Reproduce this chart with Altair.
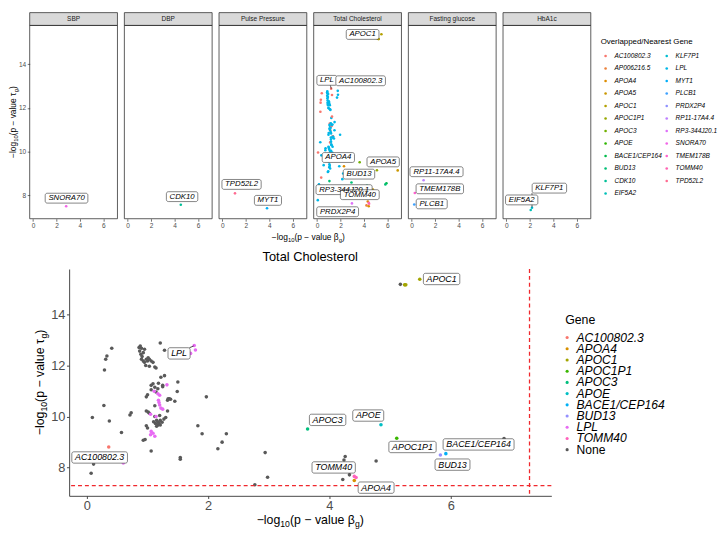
import math
import altair as alt
import pandas as pd

FONT = "Liberation Sans"

# ---------------- data ----------------
# Total cholesterol SNPs with no overlapped gene ("None" in the bottom panel),
# with their overlapped/nearest gene (colour in the top "Total Cholesterol" panel)
NONE_X = [0.07, 0.11, 0.17, 0.09, 0.37, 0.28, 0.29, 0.31, 0.33, 0.41,
          0.57, 0.71, 0.73, 0.93, 0.96, 1.06, 1.54, 1.54, 1.83, 1.90,
          1.97, 2.16, 2.23, 2.30, 2.77, 2.94, 2.98, 4.22, 4.33, 4.24,
          4.26, 4.77, 4.07, 5.17, 6.88, 1.50, 1.49, 1.22, 1.28, 0.98,
          1.34,
          0.88, 0.90, 0.87, 0.93, 0.95, 0.89, 0.90, 0.93, 0.95, 0.98,
          1.00, 1.03, 1.06, 1.09, 0.97, 1.03, 1.12, 1.14, 0.86, 0.91,
          1.01, 1.21, 1.28,
          1.09, 1.06, 1.12, 1.17, 1.14, 1.25, 1.00, 1.12, 1.36, 1.33,
          1.38, 1.45, 0.98, 1.01, 1.03, 1.12, 1.20, 1.30, 1.33, 1.15,
          1.17, 1.19, 1.21, 1.13, 1.17, 1.21, 1.15, 0.98, 1.00, 1.24,
          1.27, 1.10, 1.06, 1.18, 1.25]
NONE_Y = [7.78, 8.14, 8.50, 9.96, 9.83, 10.43, 11.82, 12.24, 12.37, 12.67,
          9.38, 10.06, 10.15, 9.07, 9.10, 8.65, 8.40, 8.33, 9.64, 9.33,
          10.77, 8.74, 9.00, 9.33, 7.33, 8.59, 7.63, 7.54, 7.72, 8.30,
          8.44, 8.26, 7.90, 15.17, 9.14, 11.35, 10.98, 11.54, 11.60, 10.77,
          10.70,
          12.76, 12.67, 12.56, 12.50, 12.63, 12.44, 12.24, 12.17, 12.12, 12.24,
          12.17, 12.24, 12.17, 12.12, 12.00, 11.97, 11.94, 11.90, 12.70, 12.35,
          12.30, 12.88, 12.59,
          11.28, 11.22, 11.15, 11.09, 10.96, 11.17, 10.85, 10.42, 10.70, 10.64,
          10.68, 10.60, 10.22, 10.18, 10.13, 10.00, 10.04, 9.96, 10.22, 9.85,
          9.79, 9.73, 9.85, 9.73, 9.67, 9.67, 9.62, 9.64, 9.55, 9.78,
          9.90, 9.80, 11.05, 11.30, 11.22]
NONE_NEAREST = ["LPL", "LPL", "LPL", "AC100802.3", "LPL", "LPL", "AC100802.3", "AC100802.3", "AC100802.3", "AC100802.3",
                "LPL", "LPL", "LPL", "LPL", "LPL", "BUD13", "LPL", "LPL", "LPL", "LPL",
                "LPL", "LPL", "LPL", "APOA4", "PRDX2P4", "BUD13", "RP3-344J20.1", "AP006216.5", "APOA4", "BUD13",
                "BUD13", "APOA5", "AP006216.5", "APOC1", "APOA5", "LPL", "LPL", "LPL", "AC100802.3", "LPL",
                "LPL",
                "LPL", "LPL", "LPL", "LPL", "LPL", "LPL", "LPL", "LPL", "LPL", "LPL",
                "LPL", "LPL", "LPL", "LPL", "LPL", "LPL", "LPL", "LPL", "LPL", "LPL",
                "LPL", "AC100802.3", "AC100802.3",
                "AC100802.3", "LPL", "LPL", "LPL", "AC100802.3", "AC100802.3", "LPL", "AC100802.3", "AC100802.3", "LPL",
                "LPL", "LPL", "LPL", "LPL", "LPL", "LPL", "LPL", "LPL", "LPL", "LPL",
                "LPL", "LPL", "LPL", "LPL", "LPL", "LPL", "LPL", "LPL", "LPL", "LPL",
                "LPL", "LPL", "LPL", "LPL", "LPL"]

# Total cholesterol SNPs that overlap a gene
GENE_X = [1.77, 1.79, 1.71, 1.32, 1.11, 1.20, 1.17, 1.18, 1.20, 1.22,
          1.25, 1.05, 1.14, 1.06, 1.05, 1.09, 1.12, 1.19, 0.60,
          0.36, 4.41, 4.41, 4.44, 5.24, 5.26, 5.49, 5.11, 3.64, 4.85, 5.92, 5.83]
GENE_Y = [12.78, 12.60, 12.47, 11.24, 10.99, 10.83, 10.89, 10.64, 10.45, 10.33,
          10.29, 10.09, 10.00, 9.42, 9.29, 9.35, 9.23, 10.55, 8.18,
          8.81, 7.50, 7.66, 7.62, 15.15, 15.15, 15.37, 9.15, 9.51, 9.68, 8.55, 8.50]
GENE_NAME = ["LPL"] * 19 + ["AC100802.3", "APOA4", "TOMM40", "TOMM40", "APOC1", "APOC1", "APOC1",
                            "APOC1P1", "APOC3", "APOE", "BACE1/CEP164", "BUD13"]

# the other five traits (top row)
OTHER_PANEL = ["SBP", "DBP", "Pulse Pressure", "Pulse Pressure", "Fasting glucose",
               "Fasting glucose", "Fasting glucose", "HbA1c", "HbA1c"]
OTHER_X = [2.83, 4.53, 1.08, 3.81, 1.02, 0.27, 0.22, 2.19, 2.08]
OTHER_Y = [7.50, 7.57, 8.09, 7.41, 8.69, 8.11, 7.58, 7.43, 7.33]
OTHER_GENE = ["SNORA70", "CDK10", "TPD52L2", "MYT1", "RP11-17A4.4", "TMEM178B", "PLCB1", "KLF7P1", "EIF5A2"]

PANELS = ["SBP", "DBP", "Pulse Pressure", "Total Cholesterol", "Fasting glucose", "HbA1c"]

TOP_LAB_PANEL = ["SBP", "DBP", "Pulse Pressure", "Pulse Pressure"] + ["Total Cholesterol"] * 9 + \
                ["Fasting glucose"] * 3 + ["HbA1c"] * 2
TOP_LAB_TEXT = ["SNORA70", "CDK10", "TPD52L2", "MYT1", "APOC1", "LPL", "AC100802.3", "APOA4", "APOA5",
                "BUD13", "RP3-344J20.1", "TOMM40", "PRDX2P4", "RP11-17A4.4", "TMEM178B", "PLCB1",
                "KLF7P1", "EIF5A2"]
TOP_LAB_X = [2.86, 4.64, 1.64, 3.89, 3.89, 0.85, 3.72, 1.82, 5.64, 3.58, 2.31, 3.65, 1.76, 2.12, 2.40, 1.71, 3.67, 1.31]
TOP_LAB_Y = [7.87, 7.94, 8.50, 7.77, 15.36, 13.26, 13.24, 9.73, 9.53, 8.97, 8.26, 8.03, 7.25, 9.08, 8.30, 7.61, 8.33, 7.79]

TOP_SEG_PANEL = ["Total Cholesterol", "HbA1c"]
TOP_SEG_X1 = [1.13, 2.19]
TOP_SEG_Y1 = [13.04, 8.11]
TOP_SEG_X2 = [1.22, 2.19]
TOP_SEG_Y2 = [12.88, 7.45]

BOT_LAB_TEXT = ["APOC1", "LPL", "AC100802.3", "APOC3", "APOE", "APOC1P1", "BACE1/CEP164", "BUD13", "TOMM40", "APOA4"]
BOT_LAB_X = [5.85, 1.52, 0.21, 3.97, 4.64, 5.37, 6.46, 6.03, 4.07, 4.77]
BOT_LAB_Y = [15.38, 12.47, 8.40, 9.87, 10.04, 8.81, 8.91, 8.12, 8.01, 7.22]

BOT_SEG_X1 = [1.69]
BOT_SEG_Y1 = [12.69]
BOT_SEG_X2 = [1.76]
BOT_SEG_Y2 = [12.76]

GW_THRESHOLD = 7.30  # -log10(5e-8)

TOP_GENES = ["AC100802.3", "AP006216.5", "APOA4", "APOA5", "APOC1", "APOC1P1", "APOC3", "APOE",
             "BACE1/CEP164", "BUD13", "CDK10", "EIF5A2", "KLF7P1", "LPL", "MYT1", "PLCB1", "PRDX2P4",
             "RP11-17A4.4", "RP3-344J20.1", "SNORA70", "TMEM178B", "TOMM40", "TPD52L2"]
BOT_GENES = ["AC100802.3", "APOA4", "APOC1", "APOC1P1", "APOC3", "APOE", "BACE1/CEP164", "BUD13",
             "LPL", "TOMM40", "None"]

X_TICKS = [0, 2, 4, 6]
Y_TICKS = [8, 10, 12, 14]


# ---------------- colours (ggplot2 default hue palette) ----------------
def hcl_hex(h, c=100.0, l=65.0):
    xn, yn, zn = 95.047, 100.0, 108.883
    hr = math.radians(h)
    U, V = c * math.cos(hr), c * math.sin(hr)
    Y = yn * ((l + 16) / 116) ** 3
    den = xn + 15 * yn + 3 * zn
    un, vn = 4 * xn / den, 9 * yn / den
    u, v = U / (13 * l) + un, V / (13 * l) + vn
    X = 9 * Y * u / (4 * v)
    Z = -X / 3 - 5 * Y + 3 * Y / v
    X, Y, Z = X / 100, Y / 100, Z / 100
    r = 3.240479 * X - 1.537150 * Y - 0.498535 * Z
    g = -0.969256 * X + 1.875992 * Y + 0.041556 * Z
    b = 0.055648 * X - 0.204043 * Y + 1.057311 * Z

    def gam(t):
        t = 1.055 * t ** (1 / 2.4) - 0.055 if t > 0.0031308 else 12.92 * t
        return max(0.0, min(1.0, t))
    return "#%02X%02X%02X" % tuple(int(round(255 * gam(t))) for t in (r, g, b))


def hue_pal(n):
    return [hcl_hex(15 + 360 * i / n) for i in range(n)]


TOP_RANGE = hue_pal(len(TOP_GENES))
BOT_RANGE = hue_pal(10) + ["#595959"]

# ---------------- text metrics (Arial / Liberation Sans) ----------------
CW = {c: 667 for c in "ABEKPSVXY"}
CW.update({c: 722 for c in "CDHNRU"})
CW.update({"F": 611, "G": 778, "I": 278, "J": 500, "L": 556, "M": 833, "O": 778, "Q": 778, "T": 611,
           "W": 944, "Z": 611, ".": 278, "-": 333, "/": 278, " ": 278, "(": 333, ")": 333,
           "\u2212": 584, "\u03b2": 575, "\u03c4": 440, "a": 556, "e": 556, "g": 556, "l": 222,
           "o": 556, "p": 556, "u": 556, "v": 500})
for d in "0123456789":
    CW[d] = 556


def text_w(s, fs):
    return sum(CW.get(c, 556) for c in s) / 1000.0 * fs


ONE = pd.DataFrame({"k": [0]})


def rich(segs, cx, cy, fs, angle=0):
    widths = [text_w(t, fs * sc) for t, sc, sh in segs]
    total = sum(widths)
    if angle == 0:
        d, n = (1, 0), (0, 1)
    else:
        d, n = (0, -1), (1, 0)
    sx = cx - d[0] * total / 2 + n[0] * 0.35 * fs
    sy = cy - d[1] * total / 2 + n[1] * 0.35 * fs
    out, adv = [], 0.0
    for (t, sc, sh), w in zip(segs, widths):
        px = sx + d[0] * adv + n[0] * sh * fs
        py = sy + d[1] * adv + n[1] * sh * fs
        out.append(alt.Chart(ONE).mark_text(align="left", baseline="alphabetic", fontSize=fs * sc,
                                            angle=angle, font=FONT, color="black")
                   .encode(x=alt.value(px), y=alt.value(py), text=alt.value(t)))
        adv += w
    return out


def title_segs(greek):
    return [("\u2212log", 1, 0), ("10", 0.7, 0.22), ("(p \u2212 value " + greek, 1, 0), ("g", 0.7, 0.22), (")", 1, 0)]


# ---------------- layout ----------------
W1, H1 = 89, 196
X1, Y1 = [-0.28, 7.2], [6.93, 15.77]
W2, H2 = 489, 230
X2, Y2 = [-0.293, 7.66], [6.90, 15.77]

# ---------------- data frames ----------------
tc = pd.DataFrame({
    "x": NONE_X + GENE_X,
    "y": NONE_Y + GENE_Y,
    "gene": ["None"] * len(NONE_X) + GENE_NAME,
    "nearest": NONE_NEAREST + GENE_NAME,
})
top_pts = pd.concat([
    pd.DataFrame({"panel": "Total Cholesterol", "x": tc["x"], "y": tc["y"], "nearest": tc["nearest"]}),
    pd.DataFrame({"panel": OTHER_PANEL, "x": OTHER_X, "y": OTHER_Y, "nearest": OTHER_GENE}),
], ignore_index=True)

kx1, ky1 = (X1[1] - X1[0]) / W1, (Y1[1] - Y1[0]) / H1
top_lab = pd.DataFrame({"panel": TOP_LAB_PANEL, "text": TOP_LAB_TEXT, "x": TOP_LAB_X, "y": TOP_LAB_Y})
hw = [(text_w(t, 7.9) + 6.4) / 2 * kx1 for t in TOP_LAB_TEXT]
top_lab["bx1"] = top_lab["x"] - hw
top_lab["bx2"] = top_lab["x"] + hw
top_lab["by1"] = top_lab["y"] - 5 * ky1
top_lab["by2"] = top_lab["y"] + 5 * ky1
top_seg = pd.DataFrame({"panel": TOP_SEG_PANEL, "x1": TOP_SEG_X1, "y1": TOP_SEG_Y1,
                        "x2": TOP_SEG_X2, "y2": TOP_SEG_Y2})

kx2, ky2 = (X2[1] - X2[0]) / W2, (Y2[1] - Y2[0]) / H2
bot_lab = pd.DataFrame({"text": BOT_LAB_TEXT, "x": BOT_LAB_X, "y": BOT_LAB_Y})
hw2 = [(text_w(t, 9) + 6.4) / 2 * kx2 for t in BOT_LAB_TEXT]
bot_lab["bx1"] = bot_lab["x"] - hw2
bot_lab["bx2"] = bot_lab["x"] + hw2
bot_lab["by1"] = bot_lab["y"] - 5.75 * ky2
bot_lab["by2"] = bot_lab["y"] + 5.75 * ky2
bot_seg = pd.DataFrame({"x1": BOT_SEG_X1, "y1": BOT_SEG_Y1, "x2": BOT_SEG_X2, "y2": BOT_SEG_Y2})
thr = pd.DataFrame({"t": [GW_THRESHOLD]})

# legend tables (two columns, filled column by column)
top_leg = pd.DataFrame({"nearest": TOP_GENES,
                        "col": [0 if i < 12 else 1 for i in range(len(TOP_GENES))],
                        "row": [i if i < 12 else i - 12 for i in range(len(TOP_GENES))]})
bot_leg = pd.DataFrame({"gene": BOT_GENES, "row": list(range(len(BOT_GENES)))})

# ---------------- top row ----------------
top_color = alt.Color("nearest:N", scale=alt.Scale(domain=TOP_GENES, range=TOP_RANGE), legend=None)


def small_axis(vals):
    return alt.Axis(values=vals, title=None, grid=False, domain=False, tickColor="#333333", tickSize=2.5,
                    tickWidth=0.7, labelFontSize=6.6, labelColor="#4d4d4d", labelPadding=1.5, labelFont=FONT,
                    format="d", labelOverlap=False, tickCount=4)


def top_panel(name, first, last):
    pts = top_pts[top_pts.panel == name]
    lab = top_lab[top_lab.panel == name]
    seg = top_seg[top_seg.panel == name]
    xsc = alt.Scale(domain=X1, nice=False, zero=False)
    ysc = alt.Scale(domain=Y1, nice=False, zero=False)
    xax = small_axis(X_TICKS)
    yax = small_axis(Y_TICKS) if first else None

    def X(f):
        return alt.X(f, scale=xsc, axis=xax)

    def Y(f):
        return alt.Y(f, scale=ysc, axis=yax)

    layers = [
        alt.Chart(ONE).mark_rect(fill="#d9d9d9", stroke="#333333", strokeWidth=0.8)
        .encode(x=alt.value(0), x2=alt.value(W1), y=alt.value(-13), y2=alt.value(0)),
        alt.Chart(ONE).mark_text(fontSize=6.6, color="#1a1a1a", baseline="middle", font=FONT)
        .encode(x=alt.value(W1 / 2), y=alt.value(-6.5), text=alt.value(name)),
        alt.Chart(ONE).mark_rect(fillOpacity=0, stroke="#333333", strokeWidth=0.8)
        .encode(x=alt.value(0), x2=alt.value(W1), y=alt.value(0), y2=alt.value(H1)),
        alt.Chart(pts).mark_circle(size=7, opacity=1).encode(x=X("x:Q"), y=Y("y:Q"), color=top_color),
    ]
    if len(seg):
        layers.append(alt.Chart(seg).mark_rule(color="black", strokeWidth=0.6)
                      .encode(x=X("x1:Q"), x2="x2:Q", y=Y("y1:Q"), y2="y2:Q"))
    if len(lab):
        layers.append(alt.Chart(lab).mark_rect(fill="white", stroke="#333333", strokeWidth=0.6, cornerRadius=2)
                      .encode(x=X("bx1:Q"), x2="bx2:Q", y=Y("by1:Q"), y2="by2:Q"))
        layers.append(alt.Chart(lab).mark_text(fontSize=7.9, fontStyle="italic", font=FONT, color="black")
                      .encode(x=X("x:Q"), y=Y("y:Q"), text="text:N"))
    if first:
        layers += rich(title_segs("\u03c4"), -17, H1 / 2, 8.5, angle=270)
    if last:
        layers.append(alt.Chart(ONE).mark_text(align="left", baseline="middle", fontSize=8, font=FONT,
                                               color="black")
                      .encode(x=alt.value(99), y=alt.value(17), text=alt.value("Overlapped/Nearest Gene")))
    main = alt.layer(*layers)
    if last:
        lx = alt.X("col:Q", scale=alt.Scale(domain=[0, 1], range=[104, 166]), axis=None)
        ly = alt.Y("row:Q", scale=alt.Scale(domain=[0, 11], range=[31, 31 + 11 * 12.67]), axis=None)
        leg = alt.layer(
            alt.Chart(top_leg).mark_circle(size=7, opacity=1).encode(x=lx, y=ly, color=top_color),
            alt.Chart(top_leg).mark_text(align="left", baseline="middle", dx=9, fontSize=6.6, fontStyle="italic",
                                         font=FONT, color="black").encode(x=lx, y=ly, text="nearest:N"),
        )
        main = alt.layer(main, leg).resolve_scale(x="independent", y="independent")
    return main.properties(width=W1, height=H1)


top_row = alt.hconcat(*[top_panel(p, i == 0, i == len(PANELS) - 1) for i, p in enumerate(PANELS)], spacing=5)

# ---------------- bottom panel ----------------
big_axis = dict(title=None, grid=False, domainColor="#333333", domainWidth=0.9, tickColor="#333333",
                tickSize=2.7, tickWidth=0.9, labelFontSize=13, labelColor="#4d4d4d", labelPadding=1.5,
                labelFont=FONT, format="d", labelOverlap=False)
bxsc = alt.Scale(domain=X2, nice=False, zero=False)
bysc = alt.Scale(domain=Y2, nice=False, zero=False)
bxax = alt.Axis(values=X_TICKS, **big_axis)
byax = alt.Axis(values=Y_TICKS, **big_axis)


def BX(f):
    return alt.X(f, scale=bxsc, axis=bxax)


def BY(f):
    return alt.Y(f, scale=bysc, axis=byax)


bot_color = alt.Color("gene:N", scale=alt.Scale(domain=BOT_GENES, range=BOT_RANGE), legend=None)

bottom_layers = [
    alt.Chart(ONE).mark_point(opacity=0, size=1).encode(x=alt.value(-37), y=alt.value(H2 / 2)),
    alt.Chart(ONE).mark_text(fontSize=13, font=FONT, color="black", baseline="middle")
    .encode(x=alt.value(W2 / 2), y=alt.value(-12), text=alt.value("Total Cholesterol")),
    alt.Chart(tc).mark_circle(size=13, opacity=1).encode(x=BX("x:Q"), y=BY("y:Q"), color=bot_color),
    alt.Chart(thr).mark_rule(color="#F0282D", strokeDash=[4, 3], strokeWidth=1.3, opacity=1)
    .encode(y=BY("t:Q")),
    alt.Chart(thr).mark_rule(color="#F0282D", strokeDash=[4, 3], strokeWidth=1.3, opacity=1)
    .encode(x=BX("t:Q")),
    alt.Chart(bot_seg).mark_rule(color="black", strokeWidth=0.7)
    .encode(x=BX("x1:Q"), x2="x2:Q", y=BY("y1:Q"), y2="y2:Q"),
    alt.Chart(bot_lab).mark_rect(fill="white", stroke="#333333", strokeWidth=0.6, cornerRadius=2)
    .encode(x=BX("bx1:Q"), x2="bx2:Q", y=BY("by1:Q"), y2="by2:Q"),
    alt.Chart(bot_lab).mark_text(fontSize=9, fontStyle="italic", font=FONT, color="black")
    .encode(x=BX("x:Q"), y=BY("y:Q"), text="text:N"),
    alt.Chart(ONE).mark_text(align="left", baseline="middle", fontSize=12.5, font=FONT, color="black")
    .encode(x=alt.value(503), y=alt.value(51.5), text=alt.value("Gene")),
]
bottom_layers += rich(title_segs("\u03b2"), 242.5, -32, 8.5)
bottom_layers += rich(title_segs("\u03c4"), -30, H2 / 2, 12.5, angle=270)
bottom_layers += rich(title_segs("\u03b2"), W2 / 2, H2 + 24, 12.5)

bly = alt.Y("row:Q", scale=alt.Scale(domain=[0, 10], range=[69.5, 69.5 + 10 * 11.37]), axis=None)
bot_legend = alt.layer(
    alt.Chart(bot_leg).mark_circle(size=10, opacity=1).encode(x=alt.value(505), y=bly, color=bot_color),
    alt.Chart(bot_leg[bot_leg.gene != "None"]).mark_text(align="left", baseline="middle", fontSize=12.3,
                                                          fontStyle="italic", font=FONT, color="black")
    .encode(x=alt.value(514.5), y=bly, text="gene:N"),
    alt.Chart(bot_leg[bot_leg.gene == "None"]).mark_text(align="left", baseline="middle", fontSize=12.3,
                                                          font=FONT, color="black")
    .encode(x=alt.value(514.5), y=bly, text="gene:N"),
)
bottom = (alt.layer(alt.layer(*bottom_layers), bot_legend)
          .resolve_scale(y="independent")
          .properties(width=W2, height=H2))

spacer = alt.Chart(ONE).mark_point(opacity=0, size=1).encode(x=alt.value(0), y=alt.value(0)).properties(width=1, height=1)
bottom_row = alt.hconcat(spacer, bottom, spacing=0)

chart = (alt.vconcat(top_row, bottom_row, spacing=2)
         .resolve_scale(color="independent")
         .properties(padding=0)
         .configure(font=FONT)
         .configure_view(stroke="transparent")
         .configure_axis(grid=False, labelOverlap=False))

chart.save("out.html", embed_options={"renderer": "svg", "actions": False})
